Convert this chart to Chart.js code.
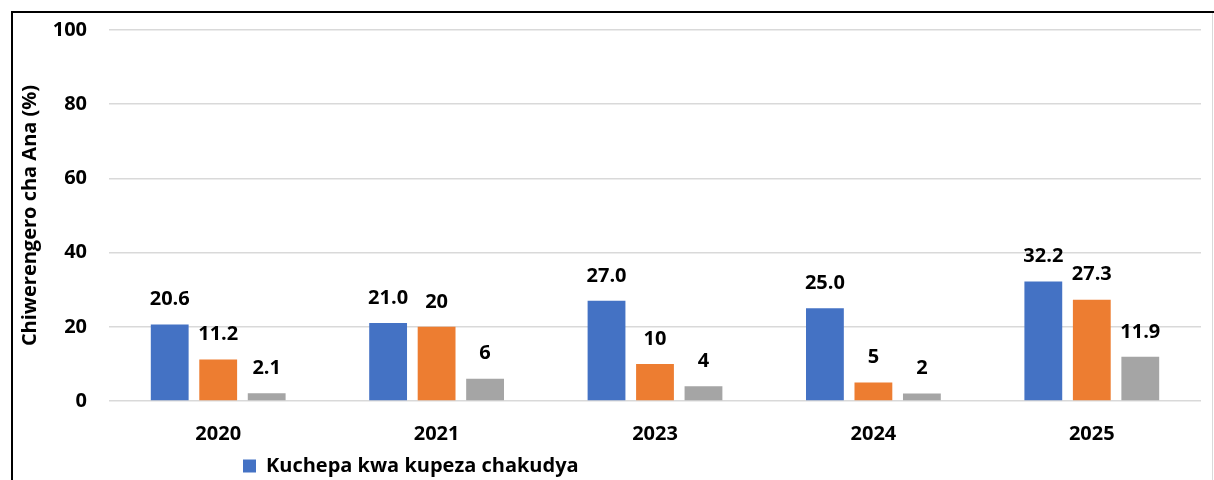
<!DOCTYPE html>
<html>
<head>
<meta charset="utf-8">
<title>Chiwerengero cha Ana</title>
<script src="https://cdn.jsdelivr.net/npm/chart.js@4"></script>
<style>
    html, body { margin: 0; padding: 0; background: #fff; overflow: hidden; }
    .frame {
        position: absolute;
        left: 11px;
        top: 11px;
        width: 1300px;
        height: 520px;
        border: 2px solid #000;
    }
    .chart-box {
        position: relative;
        width: 1199px;
        height: 480px;
        border-right: 1px solid #D9D9D9;
    }
</style>
</head>
<body>
<div class="frame">
    <div class="chart-box">
        <canvas id="kuchepaChart"></canvas>
    </div>
</div>
<script>
// Zaka (categories)
const years = ['2020', '2021', '2023', '2024', '2025'];

// Series values (%)
const kuchepaChakudya = [20.6, 21.0, 27.0, 25.0, 32.2];
const series2 = [11.2, 20, 10, 5, 27.3];
const series3 = [2.1, 6, 4, 2, 11.9];

const seriesNames = ['Kuchepa kwa kupeza chakudya', 'Series 2', 'Series 3'];
const yTicks = [0, 20, 40, 60, 80, 100];

const FONT = '"Open Sans", Lato, sans-serif';

function labelText(datasetIndex, value) {
    // mndandanda woyamba umasonyeza decimal imodzi nthawi zonse
    return datasetIndex === 0 ? value.toFixed(1) : String(value);
}

// Zolemba pamwamba pa ma bar
const barLabels = {
    id: 'barLabels',
    afterDatasetsDraw(chart) {
        const ctx = chart.ctx;
        ctx.save();
        ctx.font = 'bold 20px ' + FONT;
        ctx.fillStyle = '#000';
        ctx.textAlign = 'center';
        ctx.textBaseline = 'middle';
        chart.data.datasets.forEach((ds, i) => {
            chart.getDatasetMeta(i).data.forEach((bar, j) => {
                ctx.fillText(labelText(i, ds.data[j]), bar.x, bar.y - 25);
            });
        });
        ctx.restore();
    }
};

// Legend imayambira kumanzere pang'ono kuchokera pakati
const legendShift = {
    id: 'legendShift',
    afterLayout(chart) {
        const lg = chart.legend;
        const w = lg.right - lg.left;
        lg.left = 230 - 10;
        lg.right = lg.left + w;
    }
};

const ctx = document.getElementById('kuchepaChart').getContext('2d');
new Chart(ctx, {
    type: 'bar',
    data: {
        labels: years,
        datasets: [
            {
                label: seriesNames[0],
                data: kuchepaChakudya,
                backgroundColor: '#4472C4'
            },
            {
                label: seriesNames[1],
                data: series2,
                backgroundColor: '#ED7D31'
            },
            {
                label: seriesNames[2],
                data: series3,
                backgroundColor: '#A5A5A5'
            }
        ]
    },
    options: {
        responsive: true,
        maintainAspectRatio: false,
        animation: false,
        datasets: {
            bar: {
                categoryPercentage: 0.666,
                barPercentage: 0.78
            }
        },
        layout: {
            padding: { top: 2, right: 11, bottom: 7, left: 4 }
        },
        scales: {
            x: {
                grid: { display: false, drawTicks: false },
                border: { display: false },
                ticks: {
                    color: '#000',
                    padding: 21,
                    font: { family: FONT, size: 20, weight: 'bold' }
                },
                afterFit(scale) { scale.height = 45; }
            },
            y: {
                min: 0,
                max: 100,
                afterBuildTicks(scale) {
                    scale.ticks = yTicks.map(v => ({ value: v }));
                },
                grid: {
                    color: '#D9D9D9',
                    lineWidth: 1.5,
                    drawTicks: true,
                    tickLength: 17,
                    tickColor: 'rgba(0,0,0,0)'
                },
                border: { display: false },
                ticks: {
                    color: '#000',
                    padding: 5,
                    font: { family: FONT, size: 20, weight: 'bold' }
                },
                title: {
                    display: true,
                    text: 'Chiwerengero cha Ana (%)',
                    color: '#000',
                    padding: 1,
                    font: { family: FONT, size: 20, weight: 'bold' }
                },
                afterFit(scale) { scale.width = 92; }
            }
        },
        plugins: {
            legend: {
                position: 'bottom',
                align: 'start',
                labels: {
                    color: '#000',
                    boxWidth: 13,
                    boxHeight: 13,
                    padding: 10,
                    font: { family: FONT, size: 20, weight: 'bold' },
                    filter: item => item.datasetIndex === 0
                }
            },
            tooltip: { enabled: false }
        }
    },
    plugins: [barLabels, legendShift]
});
</script>
</body>
</html>
